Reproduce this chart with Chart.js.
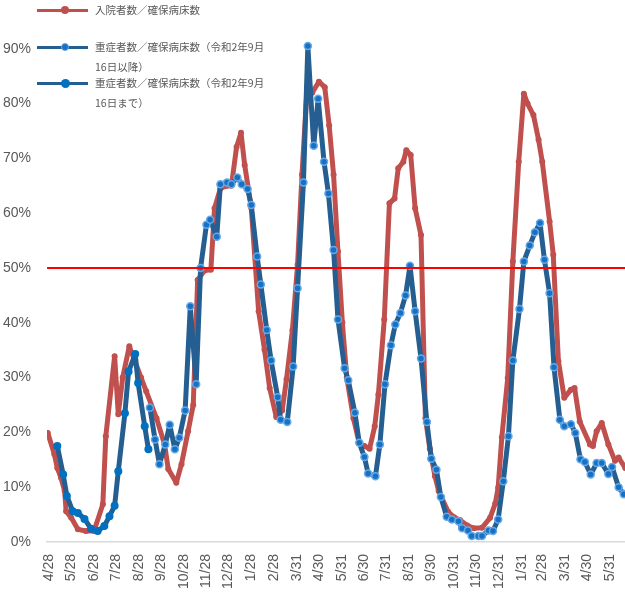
<!DOCTYPE html>
<html>
<head>
<meta charset="utf-8">
<script src="https://cdn.jsdelivr.net/npm/chart.js@4.4.1/dist/chart.umd.min.js"></script>
<style>
  html, body { margin: 0; padding: 0; background: #fff; overflow: hidden; }
  #wrap { position: relative; width: 625px; height: 613px; overflow: hidden; }
  #bedChart { position: absolute; left: -16px; top: -3px; }
  .item { position: absolute; left: 37px; font-family: "Noto Sans CJK JP", sans-serif; font-size: 10.5px; color: #595959; }
  .swatch { position: absolute; left: 0; width: 51px; height: 3px; }
  .dot { position: absolute; border-radius: 50%; box-sizing: border-box; }
  .label { position: absolute; left: 58px; top: 0; line-height: 20px; white-space: nowrap; }
</style>
</head>
<body>
<div id="wrap">
  <canvas id="bedChart" width="708" height="616"></canvas>

  <div class="item" style="top:0px">
    <div class="swatch" style="top:8.5px;background:#C0504D"></div>
    <div class="dot" style="left:24px;top:6px;width:8px;height:8px;background:#C0504D"></div>
    <div class="label">入院者数／確保病床数</div>
  </div>
  <div class="item" style="top:37px">
    <div class="swatch" style="top:8.5px;background:#255E91"></div>
    <div class="dot" style="left:24px;top:6px;width:8px;height:8px;background:#1670C4;border:1.5px solid #66A9E6"></div>
    <div class="label">重症者数／確保病床数（令和2年9月<br>16日以降）</div>
  </div>
  <div class="item" style="top:73px">
    <div class="swatch" style="top:8.5px;background:#255E91"></div>
    <div class="dot" style="left:24px;top:5.5px;width:9px;height:9px;background:#0070C0"></div>
    <div class="label">重症者数／確保病床数（令和2年9月<br>16日まで）</div>
  </div>
</div>

<script>
// x-axis tick dates (monthly)
const tickDates = [
  '2020-04-28', '2020-05-28', '2020-06-28', '2020-07-28', '2020-08-28', '2020-09-28',
  '2020-10-28', '2020-11-28', '2020-12-28', '2021-01-28', '2021-02-28', '2021-03-31',
  '2021-04-30', '2021-05-31', '2021-06-30', '2021-07-31', '2021-08-31', '2021-09-30',
  '2021-10-31', '2021-11-30', '2021-12-31', '2022-01-31', '2022-02-28', '2022-03-31',
  '2022-04-30', '2022-05-31', '2022-06-30'
];
const yTicks = [0, 10, 20, 30, 40, 50, 60, 70, 80, 90];
const threshold = 50;

// 入院者数／確保病床数 (%)
const admissionDates = [
  '2020-04-26', '2020-05-05', '2020-05-09', '2020-05-14', '2020-05-19', '2020-05-21',
  '2020-05-28', '2020-06-06', '2020-06-17', '2020-06-28', '2020-07-10', '2020-07-14',
  '2020-07-26', '2020-07-31', '2020-08-06', '2020-08-15', '2020-08-31', '2020-09-07',
  '2020-09-21', '2020-10-02', '2020-10-07', '2020-10-18', '2020-10-25', '2020-11-03',
  '2020-11-10', '2020-11-16', '2020-11-25', '2020-12-04', '2020-12-09', '2020-12-17',
  '2020-12-26', '2021-01-01', '2021-01-08', '2021-01-14', '2021-01-19', '2021-01-28',
  '2021-02-07', '2021-02-15', '2021-02-22', '2021-03-03', '2021-03-11', '2021-03-17',
  '2021-03-25', '2021-04-01', '2021-04-07', '2021-04-14', '2021-04-21', '2021-04-30',
  '2021-05-08', '2021-05-14', '2021-05-20', '2021-05-26', '2021-06-01', '2021-06-07',
  '2021-06-16', '2021-06-24', '2021-07-01', '2021-07-08', '2021-07-15', '2021-07-20',
  '2021-07-28', '2021-08-04', '2021-08-11', '2021-08-16', '2021-08-23', '2021-08-27',
  '2021-09-02', '2021-09-08', '2021-09-16', '2021-09-22', '2021-09-28', '2021-10-05',
  '2021-10-10', '2021-10-23', '2021-10-31', '2021-11-08', '2021-11-18', '2021-11-27',
  '2021-12-08', '2021-12-19', '2021-12-26', '2021-12-30', '2022-01-04', '2022-01-12',
  '2022-01-19', '2022-01-27', '2022-02-03', '2022-02-08', '2022-02-16', '2022-02-23',
  '2022-02-28', '2022-03-10', '2022-03-15', '2022-03-22', '2022-03-30', '2022-04-08',
  '2022-04-13', '2022-04-20', '2022-05-04', '2022-05-08', '2022-05-13', '2022-05-20',
  '2022-05-29', '2022-06-07', '2022-06-12', '2022-06-21', '2022-06-28'
];
const admissionRate = [
  19.9, 16, 13.5, 11.7, 9.3, 5.6,
  4.4, 2.3, 2.0, 2.0, 6.9, 19.3,
  33.9, 23.3, 30, 35.7, 30, 27.5,
  22.6, 17.8, 13.3, 10.8, 14.2, 20.2,
  25, 47.8, 49.5, 49.7, 60.9, 64.5,
  65, 65, 72.1, 74.7, 68.8, 61,
  42.1, 35.1, 28.1, 22.8, 24, 29.7,
  38.7, 50.6, 67, 83, 82, 84,
  83, 76, 67, 53, 40, 30,
  22.6, 18, 17.5, 17, 21.1, 26.9,
  40.6, 61.8, 62.7, 68.2, 69.4, 71.5,
  70.6, 60.9, 56, 22.6, 17, 12,
  9.3, 5.5, 4.5, 4, 3, 2.5,
  2.6, 4.4, 7, 9.9, 19.1, 29.9,
  51.2, 69.4, 81.8, 80, 77.9, 73.4,
  69.4, 58.5, 52.4, 33, 26.3, 27.8,
  28.1, 22, 17.8, 17.5, 20.2, 21.7,
  17.8, 14.8, 15.4, 13.5, 13
];

// 重症者数／確保病床数（令和2年9月16日以降）(%)
const severeAfterDates = [
  '2020-09-12', '2020-09-19', '2020-09-25', '2020-10-03', '2020-10-09', '2020-10-16',
  '2020-10-22', '2020-10-30', '2020-11-06', '2020-11-14', '2020-11-20', '2020-11-28',
  '2020-12-03', '2020-12-12', '2020-12-17', '2020-12-26', '2021-01-01', '2021-01-09',
  '2021-01-15', '2021-01-23', '2021-01-28', '2021-02-05', '2021-02-10', '2021-02-18',
  '2021-02-24', '2021-03-05', '2021-03-09', '2021-03-18', '2021-03-26', '2021-04-01',
  '2021-04-09', '2021-04-15', '2021-04-23', '2021-04-29', '2021-05-07', '2021-05-13',
  '2021-05-20', '2021-05-26', '2021-06-04', '2021-06-09', '2021-06-18', '2021-06-24',
  '2021-07-01', '2021-07-06', '2021-07-16', '2021-07-22', '2021-07-29', '2021-08-06',
  '2021-08-12', '2021-08-19', '2021-08-26', '2021-09-01', '2021-09-08', '2021-09-16',
  '2021-09-24', '2021-09-30', '2021-10-07', '2021-10-13', '2021-10-21', '2021-10-28',
  '2021-11-06', '2021-11-11', '2021-11-19', '2021-11-24', '2021-12-03', '2021-12-08',
  '2021-12-17', '2021-12-23', '2021-12-30', '2022-01-06', '2022-01-13', '2022-01-19',
  '2022-01-28', '2022-02-03', '2022-02-11', '2022-02-18', '2022-02-25', '2022-03-03',
  '2022-03-10', '2022-03-16', '2022-03-24', '2022-03-30', '2022-04-08', '2022-04-14',
  '2022-04-21', '2022-04-27', '2022-05-05', '2022-05-13', '2022-05-20', '2022-05-29',
  '2022-06-03', '2022-06-12', '2022-06-19', '2022-06-26'
];
const severeAfterRate = [
  24.5, 18.7, 14.2, 17.8, 21.4, 16.9,
  19, 24, 43, 28.8, 50, 57.9,
  58.8, 55.7, 65.3, 65.6, 65.3, 66.5,
  65.3, 64.4, 61.5, 52.1, 47, 38.7,
  33.1, 26.4, 22.3, 21.9, 32, 46.3,
  65.6, 90.5, 72.3, 80.9, 69.4, 63.6,
  53.3, 40.6, 31.7, 29.5, 23.6, 18.1,
  15.5, 12.5, 12, 17.8, 28.8, 35.9,
  39.7, 41.8, 45, 50.4, 42.1, 33.5,
  21.9, 15.2, 13.2, 8.2, 4.6, 4.1,
  3.8, 2.5, 2.1, 1.1, 1.1, 1.1,
  2.1, 2, 4.1, 11.1, 19.3, 33.1,
  42.5, 51.2, 54.1, 56.5, 58.2, 51.5,
  45.4, 31.9, 22.3, 21.1, 21.5, 19.9,
  15.1, 14.6, 12.3, 14.4, 14.4, 12.4,
  13.7, 10, 8.7, 9.5
];

// 重症者数／確保病床数（令和2年9月16日まで）(%)
const severeBeforeDates = [
  '2020-05-09', '2020-05-17', '2020-05-22', '2020-05-30', '2020-06-06', '2020-06-15',
  '2020-06-24', '2020-07-03', '2020-07-12', '2020-07-19', '2020-07-26', '2020-07-31',
  '2020-08-09', '2020-08-14', '2020-08-23', '2020-08-27', '2020-09-05', '2020-09-10'
];
const severeBeforeRate = [
  17.5, 12.3, 8.4, 5.6, 5.3, 4.2,
  2.4, 2.0, 2.9, 4.7, 6.6, 12.9,
  23.5, 31.1, 34.3, 29, 21.1, 16.9
];

const xMin = -3;
const xMax = 834;

const base = Date.UTC(2020, 3, 28);
const toDay = (s) => {
  const [y, m, d] = s.split('-').map(Number);
  return Math.round((Date.UTC(y, m - 1, d) - base) / 86400000);
};
const toPoints = (dates, values) => dates.map((d, i) => ({ x: toDay(d), y: values[i] }));

const tickDays = tickDates.map(toDay);
const tickLabels = {};
tickDates.forEach((s) => {
  const [, m, d] = s.split('-').map(Number);
  tickLabels[toDay(s)] = m + '/' + d;
});

const axisFont = { family: '"Liberation Sans", sans-serif', size: 14 };

new Chart('bedChart', {
  type: 'line',
  data: {
    datasets: [
      {
        label: '基準',
        data: [{ x: xMin, y: threshold }, { x: xMax, y: threshold }],
        borderColor: '#FF0000',
        borderWidth: 2,
        pointRadius: 0,
        order: 0
      },
      {
        label: '重症者数／確保病床数（令和2年9月16日以降）',
        data: toPoints(severeAfterDates, severeAfterRate),
        borderColor: '#255E91',
        borderWidth: 5,
        borderJoinStyle: 'round',
        borderCapStyle: 'round',
        pointRadius: 3.5,
        pointBorderWidth: 1.5,
        pointBackgroundColor: '#1670C4',
        pointBorderColor: '#66A9E6',
        order: 1
      },
      {
        label: '重症者数／確保病床数（令和2年9月16日まで）',
        data: toPoints(severeBeforeDates, severeBeforeRate),
        borderColor: '#255E91',
        borderWidth: 5,
        borderJoinStyle: 'round',
        borderCapStyle: 'round',
        pointRadius: 4,
        pointBorderWidth: 0,
        pointBackgroundColor: '#0070C0',
        pointBorderColor: '#0070C0',
        order: 2
      },
      {
        label: '入院者数／確保病床数',
        data: toPoints(admissionDates, admissionRate),
        borderColor: '#C0504D',
        borderWidth: 5,
        borderJoinStyle: 'round',
        borderCapStyle: 'round',
        pointRadius: 3,
        pointBorderWidth: 0,
        pointBackgroundColor: '#C0504D',
        pointBorderColor: '#C0504D',
        order: 3
      }
    ]
  },
  options: {
    responsive: false,
    animation: false,
    events: [],
    layout: { padding: { left: 3, top: 16, right: 30, bottom: 12 } },
    plugins: {
      legend: { display: false },
      tooltip: { enabled: false }
    },
    scales: {
      x: {
        type: 'linear',
        min: xMin,
        max: xMax,
        afterBuildTicks: (scale) => { scale.ticks = tickDays.map((v) => ({ value: v })); },
        grid: { display: false, drawTicks: false },
        border: { display: true, color: '#D9D9D9', width: 1.5 },
        ticks: {
          autoSkip: false,
          minRotation: 90,
          maxRotation: 90,
          padding: 12,
          color: '#595959',
          font: axisFont,
          callback: (v) => tickLabels[v] || ''
        }
      },
      y: {
        min: 0,
        max: 95,
        afterBuildTicks: (scale) => { scale.ticks = yTicks.map((v) => ({ value: v })); },
        grid: { display: false, drawTicks: false },
        border: { display: false },
        ticks: {
          padding: 16,
          color: '#595959',
          font: axisFont,
          callback: (v) => v + '%'
        }
      }
    }
  }
});
</script>
</body>
</html>
